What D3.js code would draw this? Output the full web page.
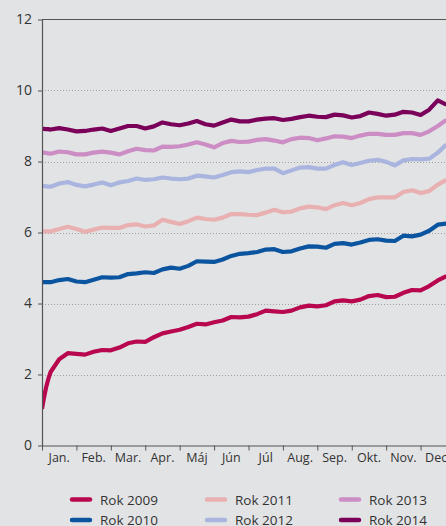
<!DOCTYPE html>
<html><head><meta charset="utf-8">
<script src="https://cdn.jsdelivr.net/npm/d3@7"></script>
<style>
html,body{margin:0;padding:0;background:#e2e3e5;}
svg{display:block;font-family:"Open Sans",sans-serif;}
</style>
</head><body>
<svg id="chart" width="446" height="526"></svg>
<script>
// ---- data ----
const months = [0,0.06,0.12,0.18,
  0.25,0.5,0.75,1,1.25,1.5,1.75,2,2.25,2.5,2.75,3,3.25,3.5,3.75,4,4.25,4.5,4.75,5,5.25,5.5,
  5.75,6,6.25,6.5,6.75,7,7.25,7.5,7.75,8,8.25,8.5,8.75,9,9.25,9.5,9.75,10,10.25,10.5,10.75,11,11.25,11.5,11.75];
const monthLabels = ["Jan.","Feb.","Mar.","Apr.","Máj","Jún","Júl","Aug.","Sep.","Okt.","Nov.","Dec."];
const yTicks = [0,2,4,6,8,10,12];
const seriesNames = ["Rok 2009","Rok 2010","Rok 2011","Rok 2012","Rok 2013","Rok 2014"];
const seriesColors = ["#b8074f","#0b55a0","#e8b0b0","#a9b5df","#cc8cc4","#7a005a"];

const rok2009 = [1.03,1.36,1.64,1.86,
  2.07,2.43,2.60,2.58,2.56,2.64,2.69,2.68,2.76,2.88,2.93,2.92,3.05,3.16,3.21,3.26,3.34,3.43,3.41,3.47,3.52,3.62,
  3.61,3.63,3.70,3.80,3.78,3.76,3.80,3.89,3.94,3.92,3.95,4.06,4.09,4.06,4.11,4.21,4.24,4.18,4.19,4.30,4.38,4.37,4.49,4.65,4.77];
const rok2010 = [4.60,4.60,4.60,4.60,
  4.60,4.66,4.69,4.62,4.60,4.67,4.74,4.73,4.74,4.83,4.85,4.88,4.86,4.96,5.01,4.98,5.06,5.19,5.18,5.17,5.24,5.34,
  5.40,5.42,5.45,5.52,5.53,5.45,5.47,5.55,5.61,5.60,5.57,5.68,5.70,5.66,5.72,5.79,5.81,5.77,5.76,5.91,5.89,5.94,6.05,6.22,6.25];
const rok2011 = [6.03,6.03,6.03,6.03,
  6.03,6.10,6.16,6.10,6.02,6.08,6.14,6.13,6.13,6.21,6.23,6.17,6.20,6.36,6.30,6.24,6.32,6.42,6.38,6.36,6.42,6.52,
  6.52,6.50,6.49,6.56,6.64,6.57,6.59,6.68,6.73,6.71,6.66,6.77,6.83,6.77,6.83,6.94,6.99,6.99,6.99,7.14,7.19,7.11,7.17,7.35,7.48];
const rok2012 = [7.32,7.31,7.30,7.29,
  7.29,7.38,7.42,7.34,7.30,7.35,7.41,7.33,7.41,7.45,7.52,7.48,7.50,7.55,7.52,7.50,7.52,7.60,7.58,7.55,7.62,7.70,
  7.72,7.70,7.76,7.80,7.80,7.67,7.75,7.83,7.84,7.80,7.80,7.90,7.98,7.90,7.96,8.02,8.05,7.99,7.89,8.03,8.07,8.06,8.08,8.25,8.48];
const rok2013 = [8.26,8.25,8.24,8.23,
  8.22,8.28,8.26,8.20,8.20,8.25,8.28,8.25,8.20,8.29,8.36,8.32,8.31,8.42,8.41,8.43,8.48,8.54,8.48,8.40,8.52,8.58,
  8.55,8.56,8.61,8.63,8.59,8.54,8.63,8.67,8.66,8.60,8.65,8.71,8.70,8.66,8.73,8.78,8.78,8.75,8.75,8.80,8.80,8.75,8.85,9.00,9.17];
const rok2014 = [8.92,8.92,8.91,8.91,
  8.90,8.94,8.90,8.85,8.86,8.90,8.93,8.86,8.93,9.00,9.00,8.93,8.99,9.10,9.05,9.02,9.07,9.14,9.05,9.01,9.10,9.18,
  9.13,9.13,9.18,9.21,9.22,9.17,9.20,9.25,9.29,9.26,9.25,9.32,9.30,9.24,9.28,9.38,9.34,9.29,9.32,9.40,9.38,9.31,9.46,9.72,9.60];
const seriesValues = [rok2009,rok2010,rok2011,rok2012,rok2013,rok2014];

// ---- chart ----
const W = 446, H = 526;
const mLeft = 42, mTop = 19.5, mBottom = 445.5;
const svg = d3.select("#chart");
const x = d3.scaleLinear().domain([0,12]).range([mLeft, 455]);
const y = d3.scaleLinear().domain([0,12]).range([mBottom, mTop]);
const axisColor = "#555";
const textColor = "#333";

// gridlines
svg.append("g").selectAll("line").data(yTicks.filter(v => v > 0 && v < 12)).join("line")
  .attr("x1", mLeft).attr("x2", W).attr("y1", d => Math.round(y(d)) + 0.5).attr("y2", d => Math.round(y(d)) + 0.5)
  .attr("stroke", "#a0a0a0").attr("stroke-width", 1).attr("stroke-dasharray", "1,2");

// top frame line
svg.append("line").attr("x1", mLeft).attr("x2", W).attr("y1", y(12)).attr("y2", y(12))
  .attr("stroke", axisColor).attr("stroke-width", 1.2);

// clip
svg.append("clipPath").attr("id", "clip").append("rect")
  .attr("x", mLeft).attr("y", 0).attr("width", W - mLeft).attr("height", mBottom);

const line = d3.line().x((d, i) => x(months[i])).y(d => y(d)).curve(d3.curveLinear);
svg.append("g").attr("clip-path", "url(#clip)").selectAll("path").data(seriesValues).join("path")
  .attr("d", d => line(d)).attr("fill", "none")
  .attr("stroke", (d, i) => seriesColors[i]).attr("stroke-width", 4.2)
  .attr("stroke-linejoin", "round");

// y axis
const yAxis = svg.append("g").attr("transform", `translate(${mLeft},0)`)
  .call(d3.axisLeft(y).tickValues(yTicks).tickSize(4).tickSizeOuter(0).tickPadding(6).tickFormat(d3.format("d")));
yAxis.select(".domain").attr("stroke", axisColor).attr("stroke-width", 1.2);
yAxis.selectAll(".tick line").attr("stroke", axisColor);
yAxis.selectAll(".tick text").attr("fill", textColor).style("font-size", "14px").style("font-family", "'Open Sans',sans-serif");

// x axis
const xAxis = svg.append("g").attr("transform", `translate(0,${mBottom})`)
  .call(d3.axisBottom(x).tickValues(d3.range(0, 13)).tickSize(5).tickSizeOuter(0).tickFormat(""));
xAxis.select(".domain").attr("stroke", axisColor).attr("stroke-width", 1.2);
xAxis.selectAll(".tick line").attr("stroke", axisColor);

svg.append("g").selectAll("text").data(monthLabels).join("text")
  .attr("x", (d, i) => x(i + 0.5)).attr("y", 462)
  .attr("text-anchor", "middle").attr("fill", textColor)
  .style("font-size", "12.5px").text(d => d);

// legend
const legendCols = [70, 205, 339];
const legendRows = [499.5, 520];
const legend = svg.append("g").selectAll("g").data(seriesNames).join("g")
  .attr("transform", (d, i) => `translate(${legendCols[Math.floor(i / 2)]},${legendRows[i % 2]})`);
legend.append("line").attr("x1", 2).attr("x2", 20).attr("y1", 0).attr("y2", 0)
  .attr("stroke", (d, i) => seriesColors[i]).attr("stroke-width", 4.5).attr("stroke-linecap", "round");
legend.append("text").attr("x", 30).attr("y", 5).attr("fill", textColor)
  .style("font-size", "13.5px").text(d => d);
</script>
</body></html>
